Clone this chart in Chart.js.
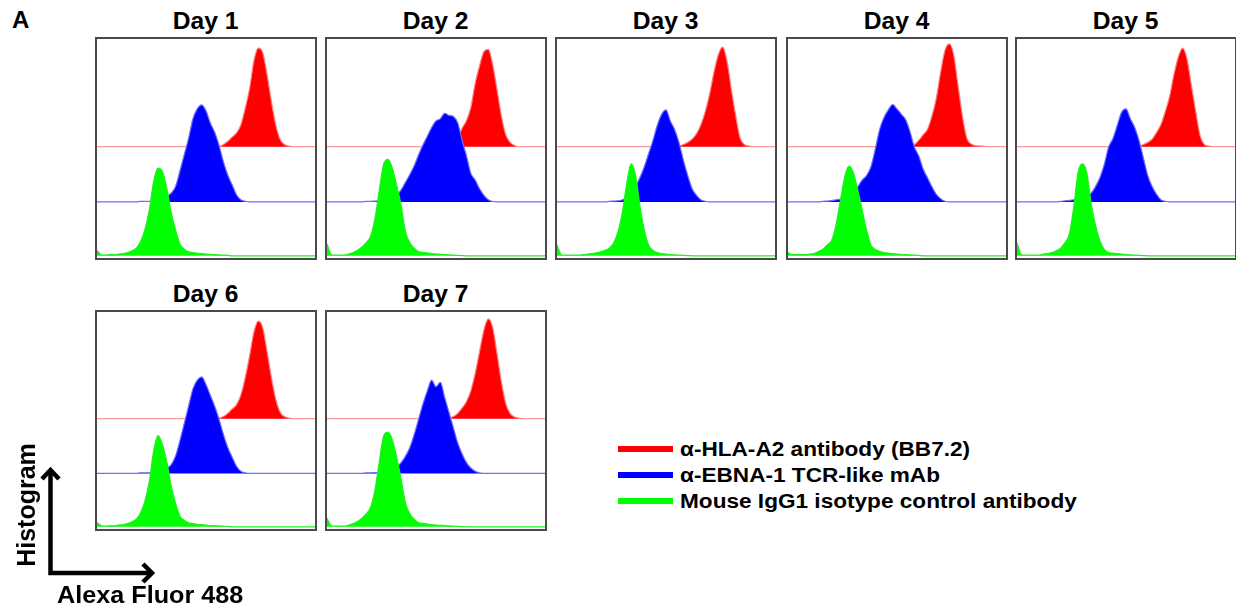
<!DOCTYPE html>
<html><head><meta charset="utf-8">
<script src="https://cdn.jsdelivr.net/npm/chart.js@4.4.1/dist/chart.umd.min.js"></script>
<style>
html,body{margin:0;padding:0;background:#fff;}
body{width:1236px;height:610px;position:relative;overflow:hidden;font-family:"Liberation Sans",Arial,sans-serif;font-weight:bold;color:#000;}
.panel{position:absolute;border:2px solid #4a4a4a;box-sizing:border-box;background:#fff;}
.panel canvas{display:block;}
.title{position:absolute;width:222px;text-align:center;font-size:23px;line-height:23px;white-space:nowrap;}
.title span{display:inline-block;transform:scaleX(1.07);}
.leg{position:absolute;left:618px;font-size:20px;line-height:20px;white-space:nowrap;}
.leg i{position:absolute;left:0;width:55px;height:6px;}
.leg span{position:absolute;left:62px;top:0;transform-origin:left center;transform:scaleX(1.13);}
</style></head>
<body>
<div style="position:absolute;left:12px;top:8px;font-size:24px;line-height:24px;">A</div>
<div id="root"></div>
<svg width="1236" height="610" style="position:absolute;left:0;top:0;pointer-events:none">
  <polyline points="50.5,471 50.5,573 151,573" fill="none" stroke="#000" stroke-width="4.5" stroke-linejoin="miter"/>
  <polyline points="42,479 50.5,470 59,479" fill="none" stroke="#000" stroke-width="4.5"/>
  <polyline points="143,564 152,573 143,582" fill="none" stroke="#000" stroke-width="4.5"/>
</svg>
<div style="position:absolute;left:-54px;top:490px;width:160px;height:30px;line-height:30px;text-align:center;font-size:25px;transform:rotate(-90deg);">Histogram</div>
<div style="position:absolute;left:57px;top:583px;font-size:24px;line-height:24px;white-space:nowrap;transform-origin:left center;transform:scaleX(1.05);">Alexa Fluor 488</div>
<script>
// Fluorescence bins (x positions across the panel, 0..100)
const bins = [0,2,4,6,8,10,12,14,16,18,20,22,24,26,28,30,32,34,36,38,40,42,44,46,48,50,52,54,56,58,60,62,64,66,68,70,72,74,76,78,80,82,84,86,88,90,92,94,96,98,100];
const days = ["Day 1","Day 2","Day 3","Day 4","Day 5","Day 6","Day 7"];
const seriesNames = ["α-HLA-A2 antibody (BB7.2)","α-EBNA-1 TCR-like mAb","Mouse IgG1 isotype control antibody"];

// Histogram heights (counts, % of panel height) per day
const hla_d1 = [0,0,0,0,0,0,0,0,0,0, 0,0,0,0,0,0,0,0,0,0, 0,0,0,0,0,0,0,0,0,1, 2.5,4.4,6.3,10,17.6,26.6,39.3,45,43,33, 20.6,10,3.3,1,0.3,0,0,0,0,0, 0];
const ebna_d1 = [0,0,0,0,0,0,0,0,0,0, 0.3,0.3,0.3,0.5,1,1.5,2.5,4,7,14, 21.5,29,38,42.5,44.3,41.6,36,31.8,25.8,18.3, 12.3,7.8,3.3,1,0.3,0,0,0,0,0, 0,0,0,0,0,0,0,0,0,0, 0];
const igg_d1 = [2.5,0.5,0.3,0.5,0.5,0.8,1,1.5,2.3,3.5, 6.5,12,21,34,40,38.5,31,20,12,5.5, 3,1.8,1.5,1.2,1,0.8,0.6,0.5,0.4,0.3, 0.2,0,0,0,0,0,0,0,0,0, 0,0,0,0,0,0,0,0,0,0, 0];

const hla_d2 = [0,0,0,0,0,0,0,0,0,0, 0,0,0,0,0,0,0,0,0,0, 0,0,0,0,0,0,0,0.3,1,2, 4,8.5,12,18,29,37,43.5,44.5,37.5,26, 14,5.5,2,0.6,0,0,0,0,0,0, 0];
const ebna_d2 = [0,0,0,0,0,0,0,0,0,0.3, 0.3,0.4,0.5,0.7,1,2,3,5.5,9,12.5, 16.5,21.5,26,30,34,37,38,40.5,39.5,39, 36,28,21,13,10,6,3,1,0.2,0, 0,0,0,0,0,0,0,0,0,0, 0];
const igg_d2 = [5.5,0.5,0.3,0.3,0.3,0.8,1.5,2.5,4,6, 9,17,30,42,44,40,32,23,11,6, 3.5,2,1.6,1.3,1,0.8,0.7,0.6,0.4,0.3, 0.2,0.1,0,0,0,0,0,0,0,0, 0,0,0,0,0,0,0,0,0,0, 0];

const hla_d3 = [0,0,0,0,0,0,0,0,0,0, 0,0,0,0,0,0,0,0,0,0, 0,0,0,0,0,0,0,0,0.3,1, 2,3.5,6,10,16,24,34,42,45.5,39, 26,14,4,1,0.3,0,0,0,0,0, 0];
const ebna_d3 = [0,0,0,0,0,0,0,0,0,0, 0,0,0.3,0.4,0.5,1,2,4,7,11, 16,22,28,35,40,42,37,33,27,19, 12,6,3,1,0.3,0,0,0,0,0, 0,0,0,0,0,0,0,0,0,0, 0];
const igg_d3 = [5,0.5,0.3,0.3,0.3,0.3,0.5,0.8,1,1.3, 1.8,2.5,3.5,6,11,20,33,42,37,23, 12,5,2.5,1.5,1,0.8,0.6,0.4,0.3,0.2, 0.1,0,0,0,0,0,0,0,0,0, 0,0,0,0,0,0,0,0,0,0, 0];

const hla_d4 = [0,0,0,0,0,0,0,0,0,0, 0,0,0,0,0,0,0,0,0,0, 0,0,0,0,0,0,0,0,0.3,1, 3,5.5,8,14,22,34,44,47,42,28, 14,4,1.3,0.5,0.3,0.2,0,0,0,0, 0];
const ebna_d4 = [0,0,0,0,0,0,0,0,0.3,0.4, 0.6,1,1.3,1.8,2.5,5,7,10,12,16, 24,33,38.5,42,44.5,42.5,40,37.5,32,25, 21,15,11,7,3.5,1.5,0.3,0,0,0, 0,0,0,0,0,0,0,0,0,0, 0];
const igg_d4 = [1.5,0.5,0.5,0.5,0.5,0.8,1,2,3,5, 7,14,25,36,41,38,30,21,12,5, 3,2,1.5,1.2,1,0.8,0.6,0.5,0.4,0.3, 0.2,0,0,0,0,0,0,0,0,0, 0,0,0,0,0,0,0,0,0,0, 0];

const hla_d5 = [0,0,0,0,0,0,0,0,0,0, 0,0,0,0,0,0,0,0,0,0, 0,0,0,0,0,0,0,0,0.3,1, 2,3.5,6.5,10,16,23,33,41,45,40, 28,16,5,1,0.3,0,0,0,0,0, 0];
const ebna_d5 = [0,0,0,0,0,0,0,0,0,0, 0.3,0.5,0.7,1,1.5,2.5,3,4,7,11, 17,25,29,35,41,42.5,38,34,28,20, 12,7,3.5,1,0.3,0,0,0,0,0, 0,0,0,0,0,0,0,0,0,0, 0];
const igg_d5 = [6,0.5,0.3,0.3,0.3,0.3,0.8,1,1.5,2.3, 3.5,6,10,22,38,42,38,24,14,7, 3,1.5,1.2,1,0.8,0.6,0.4,0.3,0.2,0.1, 0,0,0,0,0,0,0,0,0,0, 0,0,0,0,0,0,0,0,0,0, 0];

const hla_d6 = [0,0,0,0,0,0,0,0,0,0, 0,0,0,0,0,0,0,0,0,0, 0,0,0,0,0,0,0,0,0.3,1, 2.5,4.5,6.5,11,19,29,40,45,42,31, 19,9,3,1,0.3,0,0,0,0,0, 0];
const ebna_d6 = [0,0,0,0,0,0,0,0,0,0, 0.3,0.3,0.3,0.5,1,1.5,2.5,4,8,15, 23,31,39,43,44.5,41,36,31,25,18, 12,7.5,3.3,1,0.3,0,0,0,0,0, 0,0,0,0,0,0,0,0,0,0, 0];
const igg_d6 = [2,0.5,0.3,0.5,0.5,0.8,1,1.5,2.3,3.5, 6.5,12,21,35,42,38,30,19,11,5, 3,1.8,1.5,1.2,1,0.8,0.6,0.5,0.4,0.3, 0.2,0,0,0,0,0,0,0,0,0, 0,0,0,0,0,0,0,0,0,0, 0];

const hla_d7 = [0,0,0,0,0,0,0,0,0,0, 0,0,0,0,0,0,0,0,0,0, 0,0,0,0,0,0,0,0,0.3,1, 2.5,5,8,13,21,31,41,46,42,30, 17,7,2.5,0.8,0.3,0,0,0,0,0, 0];
const ebna_d7 = [0,0,0,0,0,0,0,0,0,0.3, 0.3,0.4,0.5,0.7,1,2,3,5,8,12, 18,25,32,38,43,40,42,35,28,21, 14,9,5,2.5,1,0.3,0,0,0,0, 0,0,0,0,0,0,0,0,0,0, 0];
const igg_d7 = [4,0.5,0.3,0.3,0.3,0.8,1.5,2.5,4,6, 9,17,30,42,43.6,40,32,22,11,6, 3.5,2,1.6,1.3,1,0.8,0.7,0.6,0.4,0.3, 0.2,0.1,0,0,0,0,0,0,0,0, 0,0,0,0,0,0,0,0,0,0, 0];

const hlaByDay = [hla_d1,hla_d2,hla_d3,hla_d4,hla_d5,hla_d6,hla_d7];
const ebnaByDay = [ebna_d1,ebna_d2,ebna_d3,ebna_d4,ebna_d5,ebna_d6,ebna_d7];
const iggByDay = [igg_d1,igg_d2,igg_d3,igg_d4,igg_d5,igg_d6,igg_d7];

// layout / style (not data)
const colors = ["#ff0000","#0000ff","#00ff00"];
const lineColors = ["#ff7f7f","#6f6fff","#20f020"];
const offsets = [50.8, 25.6, 1.0]; // vertical stacking offsets of the three histograms
const panelPos = [[95,37],[325,37],[555,37],[786,37],[1015,37],[95,310],[325,310]];
const panelW = 222, panelH = [223,223,223,223,223,221,221];

const root = document.getElementById('root');
days.forEach((d, k) => {
  const [L, T] = panelPos[k];
  const t = document.createElement('div');
  t.className = 'title';
  t.style.left = L + 'px';
  t.style.top = (T - 27) + 'px';
  t.innerHTML = '<span>' + d + '</span>';
  root.appendChild(t);
  const p = document.createElement('div');
  p.className = 'panel';
  p.style.left = L + 'px'; p.style.top = T + 'px';
  p.style.width = panelW + 'px'; p.style.height = panelH[k] + 'px';
  const c = document.createElement('canvas');
  c.width = panelW - 4; c.height = panelH[k] - 4;
  c.style.width = (panelW - 4) + 'px'; c.style.height = (panelH[k] - 4) + 'px';
  p.appendChild(c);
  root.appendChild(p);
  const sets = [iggByDay[k], ebnaByDay[k], hlaByDay[k]];
  const order = [2, 1, 0];
  const datasets = sets.map((h, j) => {
    const s = order[j];
    return {
      label: seriesNames[s],
      data: bins.map((x, i) => ({x: x, y: offsets[s] + h[i]})),
      borderColor: lineColors[s],
      backgroundColor: colors[s],
      borderWidth: 1.2,
      pointRadius: 0,
      cubicInterpolationMode: 'monotone',
      fill: {value: offsets[s]}
    };
  });
  new Chart(c, {
    type: 'line',
    data: {datasets},
    options: {
      responsive: false, maintainAspectRatio: false, animation: false,
      layout: {padding: 0},
      plugins: {legend: {display: false}, tooltip: {enabled: false}},
      scales: {
        x: {type: 'linear', min: 0, max: 100, display: false},
        y: {type: 'linear', min: 0, max: 100, display: false}
      }
    }
  });
});

// legend
const legTops = [439, 465, 491];
seriesNames.forEach((n, s) => {
  const e = document.createElement('div');
  e.className = 'leg';
  e.style.top = legTops[s] + 'px';
  e.innerHTML = '<i style="background:' + colors[s] + ';top:7px"></i><span>' + n + '</span>';
  root.appendChild(e);
});
</script>
</body></html>
